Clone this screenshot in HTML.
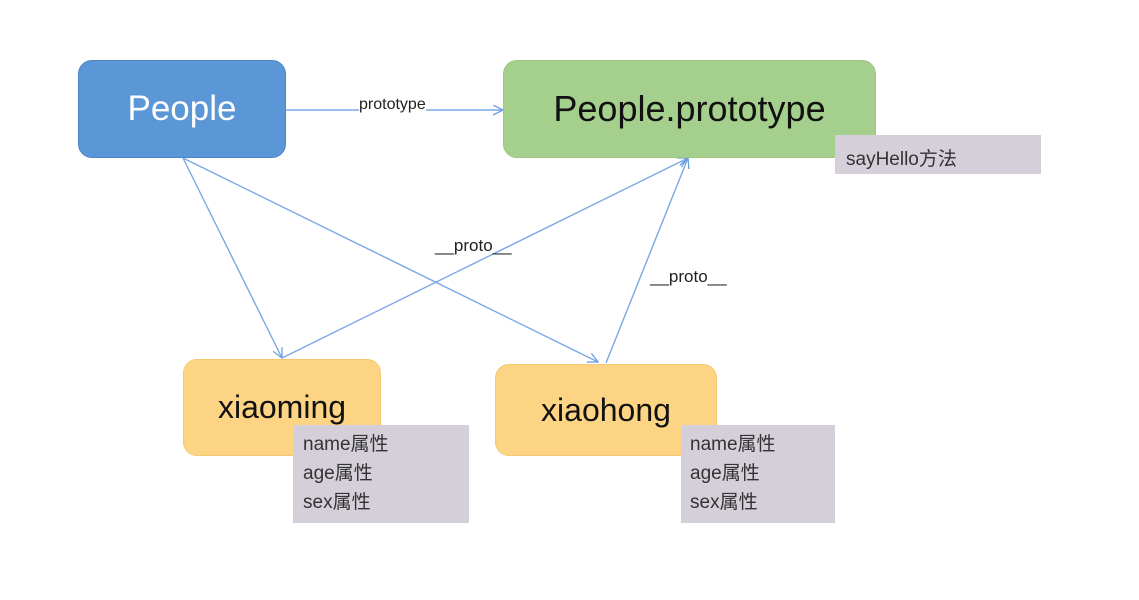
<!DOCTYPE html>
<html><head><meta charset="utf-8"><style>
body{margin:0;width:1139px;height:600px;background:#fff;overflow:hidden;position:relative;font-family:"Liberation Sans","Noto Sans CJK SC",sans-serif}
.b{position:absolute;border-radius:14px;display:flex;align-items:center;justify-content:center;box-sizing:border-box}
.g{position:absolute;background:#d4cfd8;color:#333;font-size:19px;box-sizing:border-box}
.l{position:absolute;font-size:17px;color:#222}
</style></head><body>
<svg width="1139" height="600" style="position:absolute;left:0;top:0">
<defs><marker id="a" markerWidth="12" markerHeight="12" refX="10" refY="5" orient="auto" markerUnits="userSpaceOnUse"><path d="M0,0 L10,5 L0,10" fill="none" stroke="#6a9fe0" stroke-width="1.3"/></marker></defs>
<g stroke="#7aa8e6" stroke-width="1.4" fill="none">
<line x1="286" y1="110" x2="503" y2="110" marker-end="url(#a)"/>
<line x1="183" y1="158" x2="282" y2="358" marker-end="url(#a)"/>
<line x1="183" y1="158" x2="598" y2="362" marker-end="url(#a)"/>
<line x1="282" y1="358" x2="688" y2="158" marker-end="url(#a)"/>
<line x1="606" y1="363" x2="688" y2="158" marker-end="url(#a)"/>
</g></svg>
<div class="b" style="left:78px;top:60px;width:208px;height:98px;background:#5b97d6;color:#fff;font-size:35px;border:1px solid #4a86c5">People</div>
<div class="b" style="left:503px;top:60px;width:373px;height:98px;background:#a5cf8c;color:#111;font-size:36px;border:1px solid #9cc684">People.prototype</div>
<div class="g" style="left:835px;top:135px;width:206px;height:39px;padding:9px 0 0 11px">sayHello方法</div>
<div class="b" style="left:183px;top:359px;width:198px;height:97px;background:#fdd483;color:#111;font-size:32px;border:1px solid #f5c870">xiaoming</div>
<div class="b" style="left:495px;top:364px;width:222px;height:92px;background:#fdd483;color:#111;font-size:32px;border:1px solid #f5c870">xiaohong</div>
<div class="g" style="left:293px;top:425px;width:176px;height:98px;padding:5px 0 0 10px;line-height:29px">name属性<br>age属性<br>sex属性</div>
<div class="g" style="left:681px;top:425px;width:154px;height:98px;padding:5px 0 0 9px;line-height:29px">name属性<br>age属性<br>sex属性</div>
<div class="l" style="left:359px;top:96px;background:#fff;font-size:16px">prototype</div>
<div class="l" style="left:435px;top:236px">__proto__</div>
<div class="l" style="left:650px;top:267px">__proto__</div>
</body></html>
